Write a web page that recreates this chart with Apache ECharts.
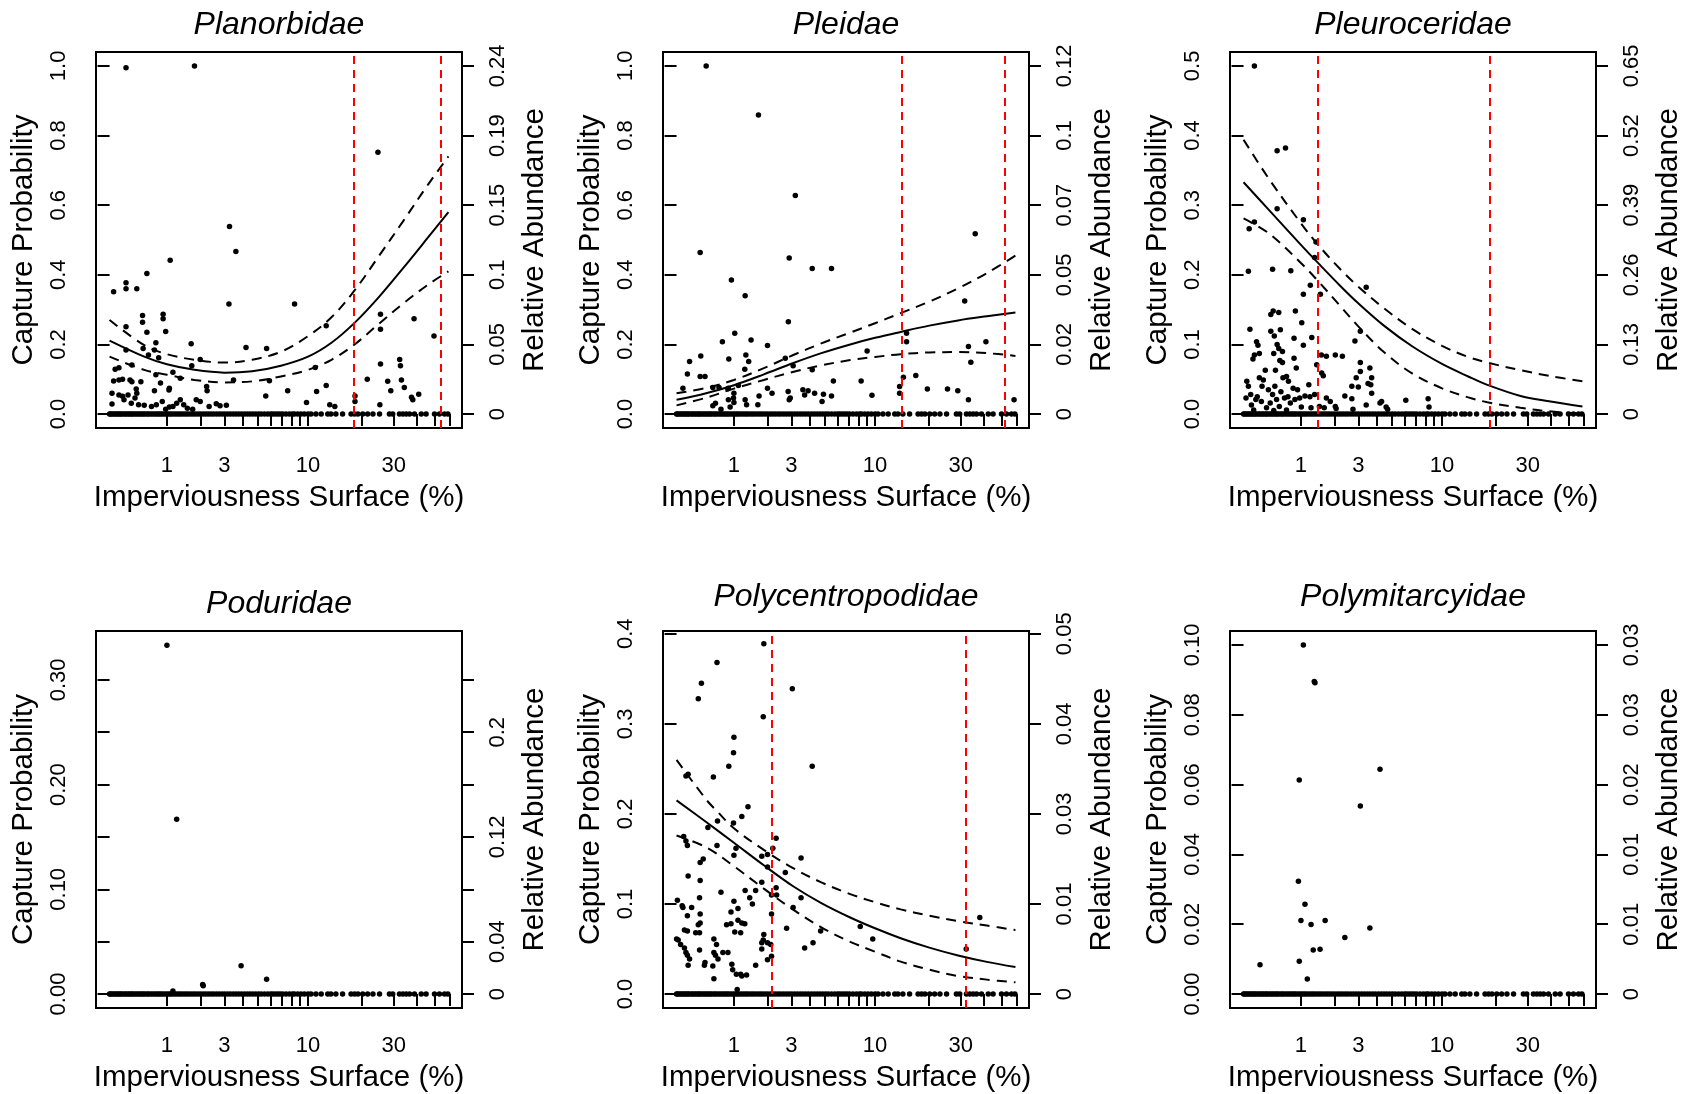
<!DOCTYPE html>
<html>
<head>
<meta charset="utf-8">
<script src="https://cdn.jsdelivr.net/npm/echarts@6/dist/echarts.min.js"></script>
<style>
html,body{margin:0;padding:0;background:#fff;}
#chart{width:1688px;height:1094px;}
</style>
</head>
<body>
<div id="chart"></div>
<script>
// ---------------- DATA ----------------
const titles = ['Planorbidae','Pleidae','Pleuroceridae','Poduridae','Polycentropodidae','Polymitarcyidae'];
const xTickValues = [1,2,3,4,5,6,7,8,9,10,20,30,40,50,60,70];
const xTickLabels = [1,3,10,30];
const xMaxData = 59;

// imperviousness of sampled sites (zero row)
const siteX = [0,0.01,0.03,0.05,0.07,0.09,0.11,0.13,0.15,0.17,0.2,0.22,0.25,0.27,0.3,0.32,0.35,0.38,0.41,0.44,0.47,0.5,0.53,0.57,0.6,0.64,0.68,0.72,0.76,0.8,0.84,0.88,0.93,0.98,1.03,1.08,1.13,1.19,1.25,1.31,1.37,1.44,1.51,1.58,1.66,1.74,1.82,1.91,2.0,2.1,2.2,2.3,2.41,2.52,2.64,2.76,2.89,3.02,3.16,3.3,3.45,3.6,3.76,3.92,4.1,4.28,4.46,4.65,4.85,5.05,
5.25,5.5,5.76,6.0,6.18,6.4,6.63,6.85,7.1,7.43,7.78,8.1,8.33,8.71,9.1,9.52,10.0,10.4,11.1,11.9,12.96,13.5,14.4,15.7,17.5,18.3,19.1,20.3,21.6,23.1,25.1,28.4,29.6,32.2,33.6,35,36.5,38.8,42.2,44.8,49.7,52.8,56.2,58.6];

// Planorbidae
const planorbidaePts = [[0.22,0.995],[1.79,1.0],[24.6,0.752],[3.26,0.539],[3.6,0.467],[1.08,0.442],[0.57,0.404],[0.22,0.377],[0.05,0.351],[0.22,0.36],[0.39,0.36],[3.23,0.316],[8.35,0.316],[0.91,0.287],[0.91,0.274],[0.49,0.283],[25.4,0.287],[38.6,0.274],[0.49,0.264],[0.22,0.251],[12.7,0.254],[0.97,0.237],[0.57,0.235],[25.4,0.244],[49.4,0.224],[0.75,0.205],[1.68,0.202],[0.5,0.188],[0.72,0.184],[4.2,0.191],[5.67,0.188],[0.22,0.184],[0.6,0.17],[0.81,0.162],[1.99,0.157],[1.7,0.139],[0.31,0.141],[32.3,0.157],[32.6,0.139],[0.07,0.129],[0.12,0.133],[11,0.134],[1.15,0.12],[0.75,0.113],[1.35,0.103],[3.47,0.098],[21.5,0.1],[33,0.098],[25.4,0.144],[0.05,0.095],[0.12,0.098],[0.17,0.1],[0.28,0.098],[0.31,0.093],[0.46,0.093],[0.85,0.089],[5.9,0.096],[27.8,0.094],[28.9,0.067],[34.2,0.076],[2.23,0.079],[2.25,0.067],[7.6,0.067],[11.2,0.065],[12.7,0.082],[0.72,0.067],[1.06,0.074],[1.05,0.069],[0.38,0.072],[40.9,0.057],[37.4,0.048],[38,0.041],[18.4,0.052],[18.4,0.036],[5.6,0.052],[9.8,0.033],[13.3,0.027],[14.2,0.022],[25.2,0.027],
[0.12,0.055],[0.17,0.051],[0.19,0.041],[0.25,0.055],[0.3,0.031],[0.36,0.046],[0.39,0.06],[0.42,0.027],[0.52,0.025],[0.66,0.022],[0.76,0.027],[0.89,0.036],[0.97,0.014],[1.06,0.02],[1.15,0.022],[1.25,0.031],[1.35,0.041],[1.45,0.027],[1.56,0.017],[1.73,0.014],[1.85,0.041],[1.99,0.036],[2.33,0.022],[2.63,0.03],[2.8,0.024],[3.1,0.025],[0.03,0.06],[0.03,0.029]];
const planorbidaeFit = [[0,0.211],[0.52,0.165],[1,0.143],[1.79,0.127],[3,0.119],[4.6,0.123],[6.93,0.139],[10,0.165],[13.6,0.205],[18.3,0.262],[24.6,0.333],[33.8,0.42],[46,0.508],[59,0.58]];
const planorbidaeUp = [[0,0.27],[0.52,0.198],[1,0.172],[1.79,0.156],[3,0.148],[4.6,0.156],[6.93,0.179],[10,0.224],[13.6,0.278],[18.3,0.355],[24.6,0.45],[33.8,0.555],[46,0.66],[59,0.74]];
const planorbidaeLo = [[0,0.165],[0.52,0.127],[1,0.113],[1.79,0.098],[3,0.091],[4.6,0.094],[6.93,0.108],[10,0.127],[13.6,0.156],[18.3,0.2],[24.6,0.257],[33.8,0.318],[46,0.372],[59,0.41]];
const planorbidaeCuts = [18.1,53.5];

// Pleidae
const pleidaePts = [[0.43,1.0],[1.69,0.859],[3.2,0.628],[0.33,0.464],[2.9,0.448],[4.15,0.418],[5.5,0.418],[35.9,0.518],[0.94,0.385],[1.29,0.34],[31.5,0.325],[2.86,0.265],[1.02,0.232],[15.1,0.232],[0.74,0.208],[1.46,0.213],[2.0,0.197],[15.1,0.208],[41,0.208],[0.34,0.167],[1.31,0.17],[0.17,0.151],[0.88,0.158],[1.39,0.151],[2.72,0.16],[3.09,0.139],[9.0,0.181],[33,0.194],[34,0.149],[0.14,0.115],[0.33,0.108],[0.41,0.108],[1.28,0.129],[4.15,0.127],[5.65,0.095],[8.3,0.095],[14.5,0.106],[17,0.111],[0.08,0.074],[0.55,0.076],[0.86,0.073],[1.11,0.082],[2.0,0.074],[3.6,0.07],[3.9,0.067],[2.85,0.065],[3.7,0.055],[4.3,0.06],[4.9,0.057],[5.5,0.052],[2.17,0.06],[1.71,0.052],[13.8,0.079],[13.8,0.06],[19.7,0.072],[25.4,0.072],[28.9,0.067],[33,0.041],[58,0.041],[9.6,0.054],[4.8,0.036],[2.9,0.041],[2.95,0.046],[0.99,0.046],[1.0,0.06],[1.29,0.041],[1.33,0.027],[0.87,0.041],[0.55,0.024],[0.6,0.031],[0.71,0.014],[0.91,0.02],[1.0,0.033],[1.67,0.027],[0.87,0.074],[0.67,0.076]];
const pleidaeFit = [[0,0.041],[0.43,0.06],[1,0.083],[1.87,0.114],[3.07,0.146],[4.75,0.175],[7.15,0.2],[10,0.219],[14,0.236],[20.2,0.254],[29,0.269],[41.5,0.281],[59,0.292]];
const pleidaeUp = [[0,0.06],[0.43,0.075],[1,0.098],[1.87,0.132],[3.07,0.169],[4.75,0.203],[7.15,0.234],[10,0.261],[14,0.29],[20.2,0.323],[29,0.361],[41.5,0.405],[59,0.455]];
const pleidaeLo = [[0,0.025],[0.43,0.047],[1,0.073],[1.87,0.098],[3.07,0.121],[4.75,0.14],[7.15,0.155],[10,0.164],[14,0.172],[20.2,0.177],[29,0.178],[41.5,0.175],[59,0.167]];
const pleidaeCuts = [14.2,51.4];

// Pleuroceridae
const pleuroceridaePts = [[0.14,0.5],[0.5,0.378],[0.66,0.382],[1.06,0.279],[0.5,0.295],[0.14,0.276],[0.07,0.266],[1.4,0.247],[1.36,0.225],[0.06,0.205],[0.42,0.208],[0.77,0.206],[1.24,0.185],[1.06,0.172],[1.53,0.172],[3.4,0.182],[0.08,0.122],[0.39,0.119],[0.56,0.121],[0.39,0.143],[0.43,0.148],[0.53,0.146],[0.87,0.148],[0.84,0.109],[1.02,0.131],[1.06,0.099],[1.28,0.11],[3.1,0.119],[2.84,0.105],[0.17,0.104],[0.19,0.099],[0.14,0.085],[0.12,0.079],[0.21,0.087],[0.44,0.087],[0.53,0.094],[0.6,0.09],[0.84,0.08],[0.89,0.066],[0.6,0.074],[1.56,0.085],[1.72,0.083],[2.03,0.085],[2.3,0.083],[1.42,0.071],[3.1,0.074],[3.6,0.066],[1.57,0.059],[1.62,0.055],[2.9,0.052],[3.1,0.061],[3.7,0.052],[3.65,0.042],[3.7,0.03],[3.5,0.044],[2.7,0.04],[3.0,0.039],[2.4,0.026],[2.7,0.022],[1.72,0.023],[1.85,0.018],[2.03,0.011],[2.06,0.008],[1.36,0.028],[1.5,0.011],[1.65,0.009],[4.2,0.016],[4.3,0.018],[4.6,0.01],[4.7,0.007],[3.4,0.013],[2.75,0.007],[6.1,0.02],[8.3,0.022],[8.4,0.01],
[0.04,0.047],[0.06,0.04],[0.03,0.023],[0.09,0.028],[0.1,0.013],[0.16,0.021],[0.18,0.025],[0.24,0.018],[0.21,0.052],[0.27,0.049],[0.35,0.035],[0.38,0.016],[0.42,0.028],[0.46,0.04],[0.49,0.021],[0.54,0.011],[0.57,0.032],[0.61,0.052],[0.64,0.023],[0.68,0.054],[0.71,0.025],[0.76,0.016],[0.82,0.037],[0.86,0.021],[0.92,0.035],[0.97,0.023],[1.01,0.01],[1.1,0.026],[1.2,0.042],[1.23,0.025],[1.26,0.009],[0.13,0.006],[0.32,0.009],[0.44,0.005],[0.68,0.006],[0.45,0.112],[0.5,0.1],[0.55,0.077],[0.47,0.063],[0.3,0.063],[0.25,0.04],[0.72,0.047]];
const pleuroceridaeFit = [[0,0.333],[0.35,0.294],[1,0.243],[1.48,0.216],[2.22,0.184],[3,0.159],[4.45,0.127],[6.7,0.097],[10,0.072],[14.1,0.054],[18,0.042],[27.4,0.026],[39,0.0185],[59,0.011]];
const pleuroceridaeUp = [[0,0.394],[0.35,0.339],[1,0.274],[1.48,0.242],[2.22,0.208],[3,0.183],[4.45,0.152],[6.7,0.122],[10,0.098],[14.1,0.082],[18,0.074],[27.4,0.063],[39,0.055],[59,0.047]];
const pleuroceridaeLo = [[0,0.281],[0.35,0.26],[1,0.217],[1.48,0.19],[2.22,0.155],[3,0.126],[4.45,0.089],[6.7,0.058],[10,0.037],[14.1,0.024],[18,0.017],[27.4,0.009],[39,0.004],[59,0.0005]];
const pleuroceridaeCuts = [1.48,18.3];

// Poduridae
const poduridaePts = [[1.0,0.333],[1.25,0.167],[3.9,0.027],[5.67,0.014],[2.08,0.009],[2.1,0.008],[1.15,0.003]];

// Polycentropodidae
const polycentropodidaePts = [[1.87,0.389],[0.63,0.368],[0.35,0.345],[0.3,0.328],[1.85,0.308],[3.05,0.339],[1.0,0.285],[0.99,0.268],[0.88,0.253],[4.15,0.253],[0.56,0.241],[0.15,0.244],[0.12,0.242],[1.37,0.208],[1.2,0.197],[0.64,0.192],[0.99,0.19],[0.46,0.185],[0.09,0.175],[0.12,0.17],[0.14,0.165],[0.63,0.165],[1.05,0.162],[1.0,0.154],[2.33,0.173],[2.2,0.162],[2.0,0.155],[1.8,0.153],[2.0,0.141],[0.38,0.15],[0.33,0.146],[2.72,0.135],[3.5,0.151],[0.15,0.131],[0.33,0.126],[1.8,0.124],[0.71,0.113],[1.29,0.115],[1.6,0.115],[2.33,0.118],[2.15,0.11],[2.35,0.11],[1.42,0.107],[3.5,0.107],[1.5,0.1],[3.09,0.096],[0.32,0.107],[0.01,0.104],[0.07,0.098],[0.08,0.096],[0.2,0.096],[0.33,0.089],[0.14,0.087],[0.93,0.091],[1.0,0.103],[1.1,0.095],[1.1,0.082],[1.2,0.079],[1.28,0.078],[0.83,0.077],[0.93,0.078],[1.17,0.068],[1.02,0.069],[0.33,0.079],[0.3,0.077],[0.26,0.068],[0.32,0.068],[0.14,0.07],[0.1,0.071],[0.0,0.061],[0.02,0.06],[0.05,0.055],[0.1,0.051],[0.12,0.046],[0.14,0.043],[0.15,0.032],[0.17,0.039],[0.32,0.049],[0.41,0.035],[0.4,0.032],[0.57,0.061],[0.62,0.055],[0.57,0.046],[0.6,0.043],[0.65,0.039],[0.55,0.031],[0.57,0.017],[0.75,0.046],[0.86,0.046],[0.95,0.033],[0.97,0.027],[1.06,0.022],[1.17,0.022],[1.2,0.02],[1.33,0.021],[1.6,0.032],[1.8,0.05],[1.8,0.057],[1.87,0.066],[1.85,0.06],[2.0,0.057],[2.12,0.055],[2.0,0.038],[2.15,0.042],[2.15,0.089],[2.78,0.073],[3.7,0.051],[4.2,0.057],[4.7,0.07],[8.2,0.075],[9.7,0.061],[38,0.085],[32.1,0.05],[1.08,0.005]];
const polycentropodidaeFit = [[0,0.215],[0.43,0.191],[1,0.168],[1.87,0.143],[3.07,0.12],[4.75,0.101],[7.15,0.085],[10,0.073],[14,0.062],[20.2,0.0515],[29,0.0428],[41.5,0.0357],[59,0.03]];
const polycentropodidaeUp = [[0,0.26],[0.43,0.216],[0.63,0.203],[1,0.184],[1.87,0.16],[3.07,0.14],[4.75,0.124],[7.15,0.111],[10,0.102],[14,0.094],[20.2,0.087],[29,0.081],[41.5,0.076],[59,0.071]];
const polycentropodidaeLo = [[0,0.176],[0.43,0.163],[1,0.142],[1.87,0.117],[3.07,0.094],[4.75,0.074],[7.15,0.058],[10,0.047],[14,0.036],[20.2,0.027],[29,0.02],[41.5,0.016],[59,0.013]];
const polycentropodidaeCuts = [2.17,32.2];

// Polymitarcyidae
const polymitarcyidaePts = [[1.06,0.1],[1.35,0.0895],[1.37,0.0892],[0.96,0.0613],[4.2,0.0644],[3.1,0.0539],[0.94,0.0323],[1.1,0.0257],[1.0,0.0211],[1.68,0.0211],[1.26,0.0199],[3.6,0.0189],[2.4,0.0162],[1.32,0.0126],[1.52,0.0128],[0.22,0.0084],[0.96,0.0094],[1.16,0.0043]];

// Axis ticks/labels per panel
const yMaxes = [1.0, 1.0, 0.5, 0.3333, 0.3876, 0.1];
const leftTicks = [[0,0.2,0.4,0.6,0.8,1.0],[0,0.2,0.4,0.6,0.8,1.0],[0,0.1,0.2,0.3,0.4,0.5],[0,0.05,0.1,0.15,0.2,0.25,0.3],[0,0.1,0.2,0.3,0.4],[0,0.02,0.04,0.06,0.08,0.1]];
const leftLabels = [['0.0','0.2','0.4','0.6','0.8','1.0'],['0.0','0.2','0.4','0.6','0.8','1.0'],['0.0','0.1','0.2','0.3','0.4','0.5'],['0.00','','0.10','','0.20','','0.30'],['0.0','0.1','0.2','0.3','0.4'],['0.00','0.02','0.04','0.06','0.08','0.10']];
const rightLabels = [['0','0.05','0.1','0.15','0.19','0.24'],['0','0.02','0.05','0.07','0.1','0.12'],['0','0.13','0.26','0.39','0.52','0.65'],['0','0.04','','0.12','','0.2',''],['0','0.01','0.03','0.04','0.05'],['0','0.01','0.01','0.02','0.03','0.03']];

const xTitle = 'Imperviousness Surface (%)';
const yTitleLeft = 'Capture Probability';
const yTitleRight = 'Relative Abundance';

// ---------------- BUILD ----------------
const U = x => Math.log10(x + 1);
const uMax = U(xMaxData);
const FONT = '"Liberation Sans", Arial, Helvetica, sans-serif';

const panelPts = [planorbidaePts, pleidaePts, pleuroceridaePts, poduridaePts, polycentropodidaePts, polymitarcyidaePts];
const panelFit = [planorbidaeFit, pleidaeFit, pleuroceridaeFit, null, polycentropodidaeFit, null];
const panelUp = [planorbidaeUp, pleidaeUp, pleuroceridaeUp, null, polycentropodidaeUp, null];
const panelLo = [planorbidaeLo, pleidaeLo, pleuroceridaeLo, null, polycentropodidaeLo, null];
const panelCuts = [planorbidaeCuts, pleidaeCuts, pleuroceridaeCuts, null, polycentropodidaeCuts, null];

const colLeft = [96, 663, 1230];
const rowTop = [52, 631];
const W = 366, H = [376, 377];

const grid = [], xAxis = [], yAxis = [], series = [], graphic = [];
const findLab = (ticks, labs, v) => { for (let k = 0; k < ticks.length; k++) if (Math.abs(ticks[k] - v) < 1e-9) return labs[k]; return ''; };
const TICKFS = 22, NAMEFS = 29.5;

for (let i = 0; i < 6; i++) {
  const r = Math.floor(i / 3), c = i % 3;
  grid.push({left: colLeft[c], top: rowTop[r], width: W, height: H[r], show: true, borderColor: '#000', borderWidth: 2, backgroundColor: 'transparent'});
  const tY = r === 0 ? 25 : (i === 3 ? 604 : 597);
  graphic.push({type: 'text', x: colLeft[c] + W / 2, y: tY, style: {text: titles[i], font: 'italic 32px ' + FONT, fill: '#000', align: 'center', verticalAlign: 'middle'}});
  xAxis.push({
    gridIndex: i, type: 'value', min: -0.04 * uMax, max: 1.04 * uMax,
    axisLine: {show: false}, splitLine: {show: false},
    axisTick: {show: true, customValues: xTickValues.map(U), length: 12, lineStyle: {color: '#000', width: 2}},
    axisLabel: {customValues: xTickLabels.map(U), formatter: v => { for (const t of xTickLabels) if (Math.abs(U(t) - v) < 1e-9) return String(t); return ''; }, fontSize: TICKFS, color: '#000', fontFamily: FONT, margin: 27},
    name: xTitle, nameLocation: 'middle', nameGap: 55, nameTextStyle: {fontSize: NAMEFS, color: '#000', fontFamily: FONT}
  });
  const ym = yMaxes[i];
  const lt = leftTicks[i], ll = leftLabels[i], rl = rightLabels[i];
  yAxis.push({
    gridIndex: i, type: 'value', position: 'left', min: -0.04 * ym, max: 1.04 * ym,
    axisLine: {show: false}, splitLine: {show: false},
    axisTick: {show: true, customValues: lt, length: 12, lineStyle: {color: '#000', width: 2}},
    axisLabel: {customValues: lt, formatter: v => findLab(lt, ll, v), rotate: 90, fontSize: TICKFS, color: '#000', fontFamily: FONT, margin: 26},
    name: yTitleLeft, nameLocation: 'middle', nameRotate: 90, nameGap: 57, nameTextStyle: {fontSize: NAMEFS, color: '#000', fontFamily: FONT}
  });
  yAxis.push({
    gridIndex: i, type: 'value', position: 'right', min: -0.04 * ym, max: 1.04 * ym,
    axisLine: {show: false}, splitLine: {show: false},
    axisTick: {show: true, customValues: lt, length: 12, lineStyle: {color: '#000', width: 2}},
    axisLabel: {customValues: lt, formatter: v => findLab(lt, rl, v), rotate: 90, fontSize: TICKFS, color: '#000', fontFamily: FONT, margin: 25},
    name: yTitleRight, nameLocation: 'middle', nameRotate: 90, nameGap: 58, nameTextStyle: {fontSize: NAMEFS, color: '#000', fontFamily: FONT}
  });
  const yi = 2 * i;
  const dot = {color: '#000', opacity: 1};
  series.push({type: 'scatter', xAxisIndex: i, yAxisIndex: yi, symbol: 'circle', symbolSize: 5.5, itemStyle: dot, silent: true, data: siteX.map(x => [U(x), 0])});
  series.push({type: 'scatter', xAxisIndex: i, yAxisIndex: yi, symbol: 'circle', symbolSize: 5.5, itemStyle: dot, silent: true, data: panelPts[i].map(p => [U(p[0]), p[1]])});
  if (panelFit[i]) {
    series.push({type: 'line', xAxisIndex: i, yAxisIndex: yi, showSymbol: false, smooth: 0.35, lineStyle: {color: '#000', width: 2}, silent: true, data: panelFit[i].map(p => [U(p[0]), p[1]])});
    series.push({type: 'line', xAxisIndex: i, yAxisIndex: yi, showSymbol: false, smooth: 0.35, lineStyle: {color: '#000', width: 2, type: [10, 7]}, silent: true, data: panelUp[i].map(p => [U(p[0]), p[1]])});
    series.push({type: 'line', xAxisIndex: i, yAxisIndex: yi, showSymbol: false, smooth: 0.35, lineStyle: {color: '#000', width: 2, type: [10, 7]}, silent: true, data: panelLo[i].map(p => [U(p[0]), p[1]])});
  }
  if (panelCuts[i]) {
    series.push({type: 'line', xAxisIndex: i, yAxisIndex: yi, data: [], silent: true,
      markLine: {silent: true, symbol: ['none', 'none'], label: {show: false}, animation: false,
        lineStyle: {color: '#ff0000', width: 2, type: [8, 6]},
        data: panelCuts[i].map(cx => ({xAxis: U(cx)}))}});
  }
}

const chart = echarts.init(document.getElementById('chart'), null, {renderer: 'canvas'});
chart.setOption({animation: false, backgroundColor: '#fff', grid, xAxis, yAxis, series, graphic});
</script>
</body>
</html>
